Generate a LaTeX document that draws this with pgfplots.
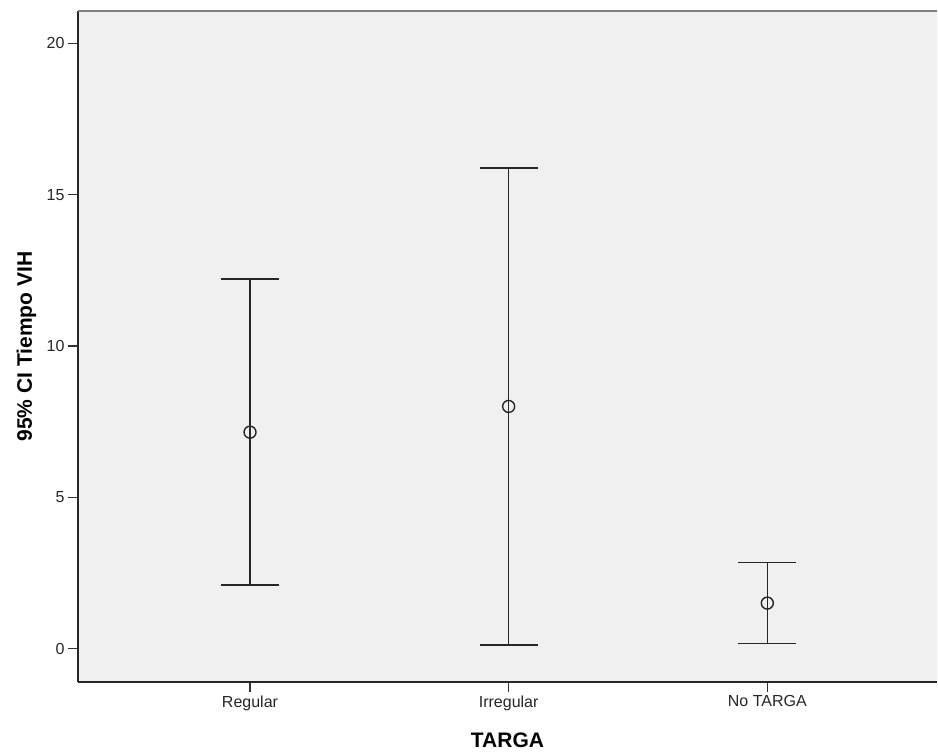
\documentclass[border=0pt]{standalone}
\usepackage{fontspec}
\setmainfont{Liberation Sans}
\usepackage{pgfplots}
\pgfplotsset{compat=1.18}
\usepackage{pgfplotstable}
\pgfplotstableread{
x mean ep em
0 7.15 5.06 5.06
1 8.00 7.89 7.89
2 1.50 1.34 1.33
}\ci
\begin{document}
\begin{tikzpicture}[x=1pt,y=1pt]
\path[use as bounding box] (0,0) rectangle (938,752);
\begin{axis}[
  at={(78pt,70pt)}, anchor=south west,
  scale only axis, width=859pt, height=671pt,
  xmin=-0.665, xmax=2.656, ymin=-1.107, ymax=21.07,
  axis x line*=bottom, axis y line*=left,
  axis line style={line width=1.3pt, color=black!85, -},
  axis background/.style={fill=black!6},
  xtick={0,1,2}, xticklabels={Regular,Irregular,No TARGA},
  ytick={0,5,10,15,20},
  tick align=outside, major tick length=10pt,
  tick style={line width=1.3pt, black!80},
  tick label style={font=\fontsize{16}{18}\selectfont, color=black!85},
  /pgf/number format/assume math mode=true,
  xlabel={TARGA}, ylabel={95\% CI Tiempo VIH},
  label style={font=\fontsize{21}{24}\selectfont\bfseries},
  xlabel style={at={([yshift=-66pt]rel axis cs:0.5,0)}, anchor=base},
  ylabel style={at={([xshift=-46pt]rel axis cs:0,0.5)}, anchor=base, rotate=0},
]
\draw[black!50, line width=2pt] (rel axis cs:0,1) -- (rel axis cs:1,1);
\addplot[only marks, mark=o, mark size=6pt, mark options={line width=1.4pt, black!85},
  error bars/.cd, y dir=both, y explicit,
  error bar style={line width=1.6pt, black!85},
  error mark options={rotate=90, mark size=29pt, line width=1.6pt, black!85}]
  table[x=x, y=mean, y error plus=ep, y error minus=em]{\ci};
\end{axis}
\end{tikzpicture}
\end{document}
